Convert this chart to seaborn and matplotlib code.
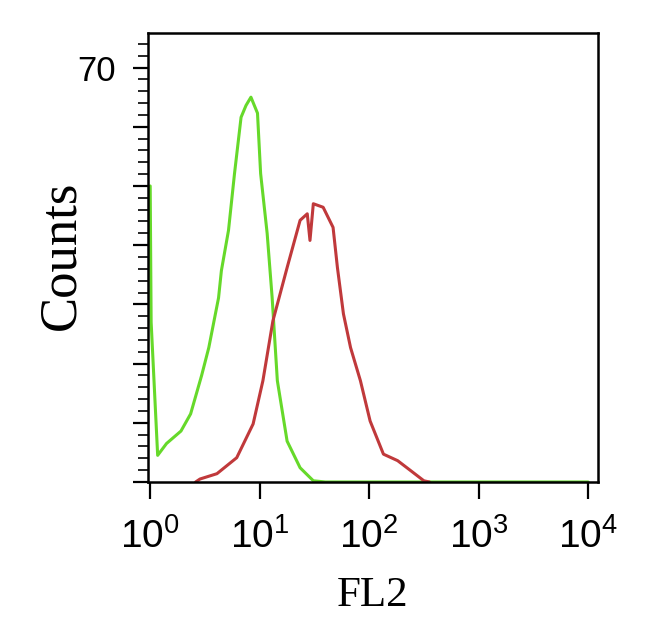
import matplotlib
matplotlib.use("Agg")
import matplotlib.pyplot as plt
import matplotlib.ticker as mticker
import seaborn as sns
import numpy as np
import pandas as pd

# FL2 intensity / event counts
green_fl2 = [1.00, 1.02, 1.17, 1.41, 1.91, 2.34, 2.95, 3.43, 4.21, 4.47, 5.19,
             5.89, 6.76, 7.50, 8.32, 9.55, 10.2, 11.7, 13.0, 14.5, 17.8, 23.4,
             30.9, 39.8, 10000]
green_counts = [50, 27, 4.5, 6.5, 8.6, 11.5, 18, 22.7, 31.1, 35.7, 42.5,
                52.1, 61.6, 63.6, 65, 62.3, 52.1, 42, 31.1, 17.1, 6.9, 2.4,
                0.2, 0, 0]

red_fl2 = [2.6, 2.85, 4.07, 6.17, 8.71, 10.7, 13.2, 17.8, 23.4, 27.2, 28.8,
           30.9, 38.0, 46.8, 51.3, 58.2, 67.6, 83.2, 102, 135, 182, 240, 316,
           355]
red_counts = [0, 0.5, 1.4, 4.1, 9.8, 17.1, 27.2, 36.2, 44.2, 45.3, 40.8,
              47, 46.4, 43, 36.2, 28.4, 22.7, 17.1, 10.3, 4.7, 3.6, 1.9, 0.2,
              0]

x_ticks = [1, 10, 100, 1000, 10000]
y_label_ticks = [70]

sns.set_style("ticks")
plt.rcParams['font.family'] = ['Liberation Sans', 'DejaVu Sans']
plt.rcParams['mathtext.fontset'] = 'custom'
plt.rcParams['mathtext.rm'] = 'Liberation Sans'
plt.rcParams['mathtext.it'] = 'Liberation Sans'
plt.rcParams['text.color'] = 'black'
plt.rcParams['axes.labelcolor'] = 'black'

fig = plt.figure(figsize=(6.5, 6.27), dpi=100)
ax = fig.add_axes([0.2277, 0.2313, 0.6923, 0.7157])

df_green = pd.DataFrame({'FL2': green_fl2, 'Counts': green_counts})
df_red = pd.DataFrame({'FL2': red_fl2, 'Counts': red_counts})

sns.lineplot(data=df_green, x='FL2', y='Counts', color='#66D92A', lw=2.2,
             sort=False, estimator=None, ax=ax)
sns.lineplot(data=df_red, x='FL2', y='Counts', color='#C0393B', lw=2.2,
             sort=False, estimator=None, ax=ax)

ax.set_xscale('log')
ax.set_xlim(10 ** -0.02, 10 ** 4.09)
ax.set_ylim(0, 75.8)

# x ticks: decades labelled, minor ticks in between
ax.xaxis.set_major_locator(mticker.FixedLocator(x_ticks))
ax.xaxis.set_minor_locator(mticker.LogLocator(base=10, subs=range(2, 10)))
ax.xaxis.set_major_formatter(mticker.FuncFormatter(
    lambda v, p: r'$10^{%d}$' % int(round(np.log10(v)))))
ax.xaxis.set_minor_formatter(mticker.NullFormatter())

# y ticks: only 70 labelled
ax.yaxis.set_major_locator(mticker.MultipleLocator(10))
ax.yaxis.set_minor_locator(mticker.MultipleLocator(2))
ax.yaxis.set_major_formatter(mticker.FuncFormatter(
    lambda v, p: '%d' % v if int(round(v)) in y_label_ticks else ''))

ax.tick_params(axis='x', which='major', direction='out', length=12, width=1.6,
               labelsize=28, pad=14, colors='black')
ax.tick_params(axis='x', which='minor', direction='out', length=6, width=1.6)
ax.tick_params(axis='y', which='major', direction='out', length=11, width=1.6,
               labelsize=25, pad=12, colors='black')
ax.tick_params(axis='y', which='minor', direction='out', length=7, width=1.4)

for side in ['left', 'bottom', 'top', 'right']:
    ax.spines[side].set_visible(True)
    ax.spines[side].set_color('black')
    ax.spines[side].set_linewidth(1.8)

ax.set_xlabel('FL2', family='Liberation Serif', fontsize=31, color='black')
ax.set_ylabel('Counts', family='Liberation Serif', fontsize=38, color='black')
ax.xaxis.set_label_coords(0.5, -0.21)
ax.yaxis.set_label_coords(-0.14, 0.505)

fig.savefig('out.png', dpi=100)
plt.close(fig)
